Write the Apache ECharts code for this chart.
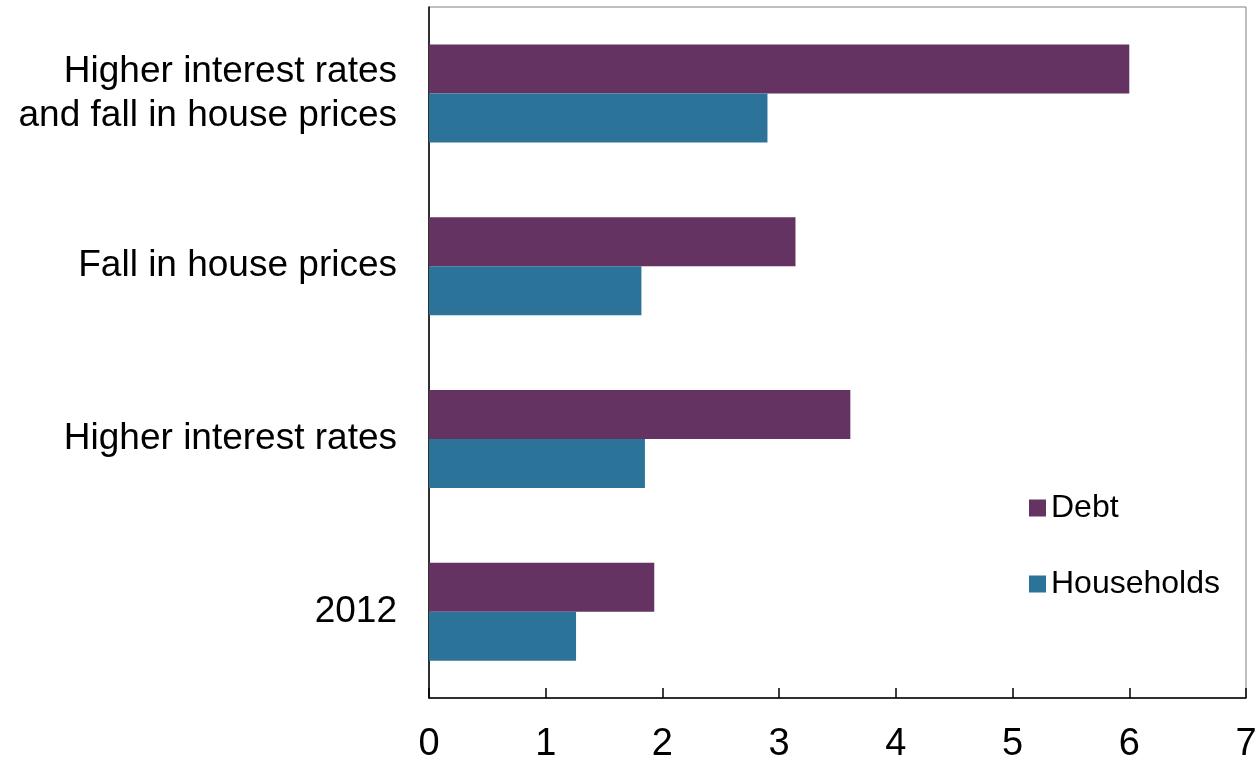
<!DOCTYPE html>
<html>
<head>
<meta charset="utf-8">
<script src="https://cdn.jsdelivr.net/npm/echarts@6/dist/echarts.min.js"></script>
<style>
html,body{margin:0;padding:0;background:#fff;}
#chart{width:1257px;height:761px;}
</style>
</head>
<body>
<div id="chart"></div>
<script>
var categories = ['2012', 'Higher interest rates', 'Fall in house prices', 'Higher interest rates\nand fall in house prices'];
var debtValues = [1.93, 3.61, 3.14, 6.0];
var householdValues = [1.26, 1.85, 1.82, 2.9];
var xTicks = [0, 1, 2, 3, 4, 5, 6, 7];
var seriesNames = ['Debt', 'Households'];

var chart = echarts.init(document.getElementById('chart'));
var font = 'Liberation Sans, Arial, sans-serif';
chart.setOption({
  animation: false,
  backgroundColor: '#ffffff',
  grid: {left: 429, right: 11, top: 7, bottom: 63, show: true, borderColor: '#808080', borderWidth: 1, containLabel: false, outerBoundsMode: 'none'},
  legend: {
    data: seriesNames,
    orient: 'vertical',
    left: 1024, top: 487,
    itemWidth: 17, itemHeight: 17, itemGap: 44,
    icon: 'rect',
    textStyle: {fontFamily: font, fontSize: 32, color: '#000'}
  },
  xAxis: {
    type: 'value', min: xTicks[0], max: xTicks[xTicks.length - 1], interval: 1,
    axisLine: {show: true, lineStyle: {color: '#000', width: 1.5}},
    axisTick: {show: true, inside: true, length: 10, lineStyle: {color: '#000', width: 1.5}},
    splitLine: {show: false},
    axisLabel: {fontFamily: 'Liberation Sans Narrow, ' + font, fontSize: 38, color: '#000', margin: 28}
  },
  yAxis: {
    type: 'category', data: categories,
    axisLine: {show: true, lineStyle: {color: '#000', width: 1.5}},
    axisTick: {show: false},
    axisLabel: {fontFamily: font, fontSize: 37, color: '#000', margin: 32, lineHeight: 44, align: 'right'}
  },
  series: [
    {name: 'Debt', type: 'bar', data: debtValues, barWidth: 49, barGap: '0%', itemStyle: {color: '#643361'}},
    {name: 'Households', type: 'bar', data: householdValues, barWidth: 49, barGap: '0%', itemStyle: {color: '#2c7399'}}
  ]
});
</script>
</body>
</html>
